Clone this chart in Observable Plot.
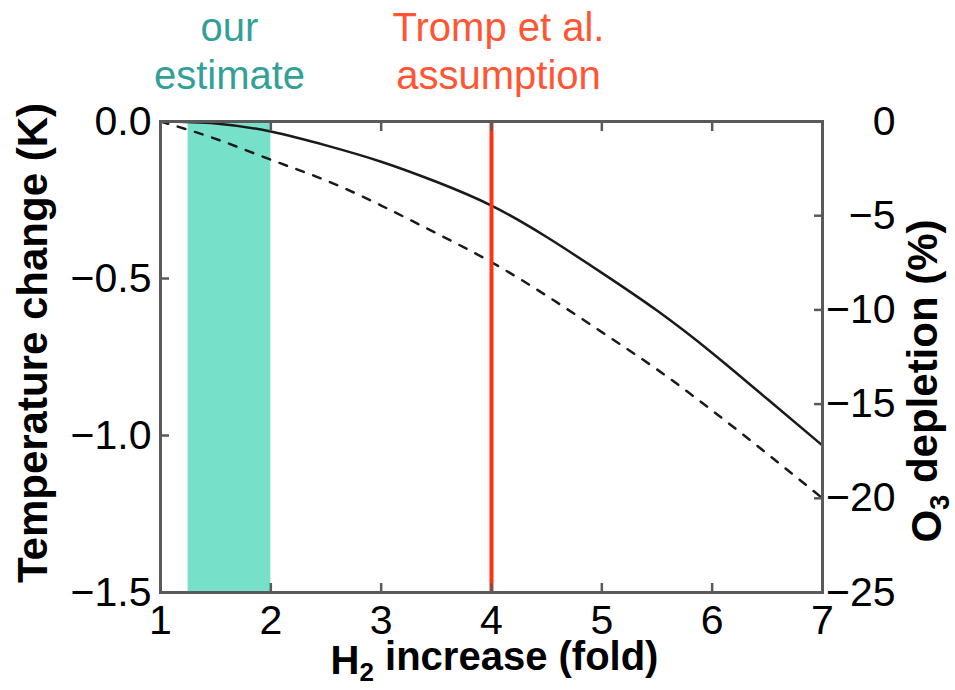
<!DOCTYPE html>
<html>
<head>
<meta charset="utf-8">
<script src="https://cdn.jsdelivr.net/npm/d3@7"></script>
<script src="https://cdn.jsdelivr.net/npm/@observablehq/plot@0.6"></script>
<style>
  html, body { margin: 0; padding: 0; background: #fff; }
  #chart { width: 955px; height: 690px; }
</style>
</head>
<body>
<div id="chart"></div>
<script>
// ---- data ----
const h2Fold = [1, 1.5, 2, 2.5, 3, 3.5, 4, 4.5, 5, 5.5, 6, 6.5, 7];
const tempChangeK = [0, -0.006, -0.032, -0.076, -0.128, -0.192, -0.268, -0.368, -0.482, -0.602, -0.737, -0.884, -1.032];
const o3DepletionPct = [0, -0.92, -2.03, -3.13, -4.46, -5.93, -7.47, -9.25, -11.18, -13.16, -15.34, -17.64, -20.0];

const xTicks = [1, 2, 3, 4, 5, 6, 7];
const tempTicks = [0, -0.5, -1.0, -1.5];
const o3Ticks = [0, -5, -10, -15, -20, -25];

const estimateRange = [1.25, 2.0];
const trompFold = [4];

const xTitle = "H₂ increase (fold)";
const yTitle = "Temperature change (K)";
const y2Title = "O₃ depletion (%)";
const estimateLabel = "our\nestimate";
const trompLabel = "Tromp et al.\nassumption";

// right axis (%) mapped onto left axis (K): -25 % <-> -1.5 K
const k = 1.5 / 25;
const rows = h2Fold.map((x, i) => ({x, temp: tempChangeK[i], o3: o3DepletionPct[i] * k}));

const frameColor = "#5a5a5a";
const fmt1 = d3.format(".1f");
const fmt0 = d3.format("d");
const tickFont = 41;

const chart = Plot.plot({
  width: 955,
  height: 690,
  marginLeft: 160,
  marginRight: 133,
  marginTop: 121,
  marginBottom: 98,
  x: {domain: [1, 7]},
  y: {domain: [-1.5, 0]},
  style: {fontFamily: "'Liberation Sans', Arial, Helvetica, sans-serif", fontSize: "40px", color: "#000", background: "#fff"},
  marks: [
    Plot.rect([estimateRange], {x1: d => d[0], x2: d => d[1], fill: "#77e0c8"}),
    Plot.line(rows, {x: "x", y: "temp", stroke: "#1a1a1a", strokeWidth: 2.5, curve: "natural"}),
    Plot.line(rows, {x: "x", y: "o3", stroke: "#1a1a1a", strokeWidth: 2.5, strokeDasharray: "8,10", curve: "natural"}),
    Plot.ruleX(trompFold, {stroke: "#ff3311", strokeWidth: 4}),
    Plot.frame({stroke: frameColor, strokeWidth: 3}),
    // x axis labels + inward ticks
    Plot.axisX({ticks: xTicks, tickSize: 0, tickPadding: 12, tickFormat: fmt0, label: null, fontSize: tickFont}),
    Plot.axisX({ticks: xTicks.slice(1, -1), tickSize: -9, tickFormat: () => "", label: null, stroke: frameColor, strokeWidth: 2.5}),
    Plot.axisX({anchor: "top", ticks: xTicks.slice(1, -1), tickSize: -9, tickFormat: () => "", label: null, stroke: frameColor, strokeWidth: 2.5}),
    // left axis
    Plot.axisY({ticks: tempTicks, tickSize: 0, tickPadding: 9, tickFormat: fmt1, label: null, fontSize: tickFont}),
    Plot.axisY({ticks: tempTicks.slice(1, -1), tickSize: -9, tickFormat: () => "", label: null, stroke: frameColor, strokeWidth: 2.5}),
    // right axis (O3 %)
    Plot.axisY({anchor: "right", ticks: o3Ticks.map(v => v * k), tickSize: 0, tickPadding: 73, textAnchor: "end",
      tickFormat: d => fmt0(Math.round(d / k)), label: null, fontSize: tickFont}),
    Plot.axisY({anchor: "right", ticks: o3Ticks.slice(1, -1).map(v => v * k), tickSize: -9, tickFormat: () => "", label: null, stroke: frameColor, strokeWidth: 2.5}),
    // axis titles
    Plot.text([xTitle], {text: d => d, frameAnchor: "bottom", textAnchor: "middle", lineAnchor: "top", dy: 53, dx: 3, fontWeight: "bold", fontSize: 40}),
    Plot.text([yTitle], {text: d => d, frameAnchor: "left", textAnchor: "middle", lineAnchor: "middle", rotate: -90, dx: -127, dy: -14, fontWeight: "bold", fontSize: 42}),
    Plot.text([y2Title], {text: d => d, frameAnchor: "right", textAnchor: "middle", lineAnchor: "middle", rotate: -90, dx: 105, dy: 24, fontWeight: "bold", fontSize: 42}),
    // annotations
    Plot.text([{x: (estimateRange[0] + estimateRange[1]) / 2, label: estimateLabel}],
      {x: "x", text: "label", frameAnchor: "top", textAnchor: "middle", lineAnchor: "bottom", dy: -33, lineHeight: 1.2, fill: "#33a098", fontSize: 40}),
    Plot.text([{x: trompFold[0], label: trompLabel}],
      {x: "x", text: "label", frameAnchor: "top", textAnchor: "middle", lineAnchor: "bottom", dy: -33, dx: 7, lineHeight: 1.2, fill: "#ff5533", fontSize: 40})
  ]
});

// render subscript digits as real lowered, smaller text
const subMap = {"₂": "2", "₃": "3"};
d3.select(chart).selectAll("text").each(function() {
  const t = this.textContent;
  const m = t.match(/[₂₃]/);
  if (!m || this.querySelector("tspan")) return;
  const i = t.indexOf(m[0]);
  const el = d3.select(this);
  el.text(null);
  el.append("tspan").text(t.slice(0, i));
  el.append("tspan").attr("font-size", "0.65em").attr("dy", "0.28em").text(subMap[m[0]]);
  el.append("tspan").attr("dy", "-0.28em").text(t.slice(i + 1));
});

document.getElementById("chart").appendChild(chart);
</script>
</body>
</html>
